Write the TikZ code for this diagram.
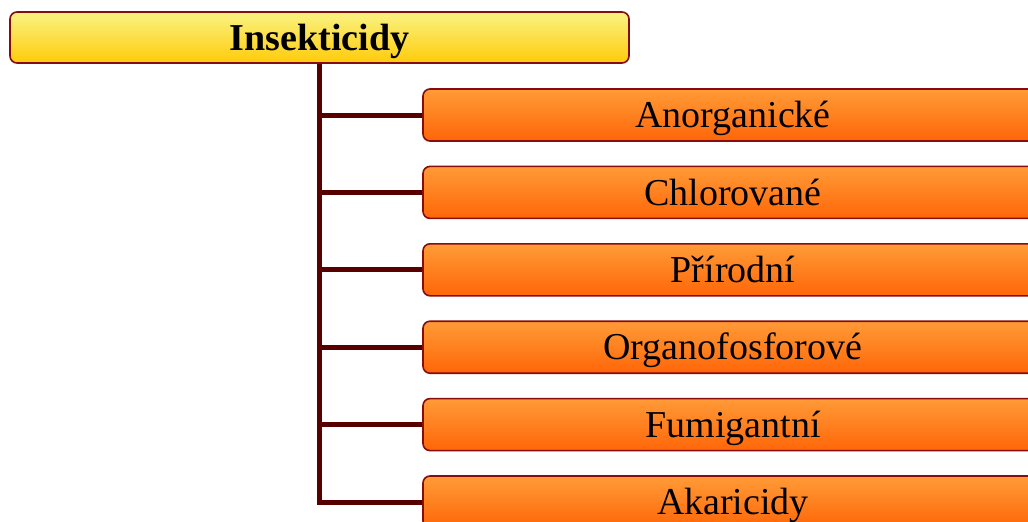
\documentclass[tikz,border=0pt]{standalone}
\usepackage{fontspec}
\setmainfont{Liberation Serif}
\usetikzlibrary{positioning}

\definecolor{rimred}{RGB}{135,12,12}
\definecolor{stemred}{RGB}{88,0,0}
\definecolor{yeltop}{RGB}{250,243,130}
\definecolor{yelbot}{RGB}{255,203,10}
\definecolor{orgtop}{RGB}{255,155,55}
\definecolor{orgbot}{RGB}{255,102,8}

\begin{document}
\begin{tikzpicture}[x=1pt,y=-1pt,
  every node/.style={font=\fontsize{38}{42}\selectfont,text height=25.5pt,text depth=0pt},
  head/.style={draw=rimred,line width=1.6pt,rounded corners=7pt,minimum width=619pt,minimum height=51pt,top color=yeltop,bottom color=yelbot,font=\fontsize{38}{42}\selectfont\bfseries},
  kind/.style={draw=rimred,line width=1.6pt,rounded corners=7pt,minimum width=620pt,minimum height=52pt,top color=orgtop,bottom color=orgbot},
  link/.style={draw=stemred,line width=5pt}
]
  \useasboundingbox (0,0) rectangle (1028,522);
  \clip (0,0) rectangle (1028,522);

  \node[head] (root) at (319.5,37.5) {Insekticidy};

  \node[kind] (anorg) at (733,115) {Anorganické};
  \node[kind] (chlor) at (733,192.4) {Chlorované};
  \node[kind] (prir) at (733,269.8) {Přírodní};
  \node[kind] (ofos) at (733,347.2) {Organofosforové};
  \node[kind] (fumig) at (733,424.6) {Fumigantní};
  \node[kind] (akar) at (733,502) {Akaricidy};

  % stem and branches
  \draw[link] (root.south) |- (akar.west);
  \draw[link] (root.south) |- (anorg.west);
  \draw[link] (root.south) |- (chlor.west);
  \draw[link] (root.south) |- (prir.west);
  \draw[link] (root.south) |- (ofos.west);
  \draw[link] (root.south) |- (fumig.west);
\end{tikzpicture}
\end{document}
